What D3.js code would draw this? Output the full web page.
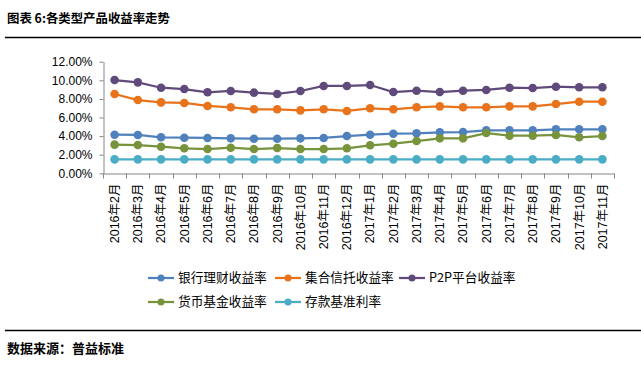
<!DOCTYPE html>
<html><head><meta charset="utf-8">
<script src="https://cdn.jsdelivr.net/npm/d3@7/dist/d3.min.js"></script>
<style>body{margin:0;background:#fff;}svg{display:block;}</style>
</head><body>
<svg id="chart" width="641" height="366"></svg>
<script>
const categories = ["2016年2月","2016年3月","2016年4月","2016年5月","2016年6月","2016年7月","2016年8月","2016年9月","2016年10月","2016年11月","2016年12月","2017年1月","2017年2月","2017年3月","2017年4月","2017年5月","2017年6月","2017年7月","2017年8月","2017年9月","2017年10月","2017年11月"];
const bankWMP = [4.15,4.12,3.87,3.83,3.80,3.76,3.72,3.72,3.76,3.80,4.01,4.15,4.26,4.30,4.41,4.44,4.62,4.62,4.62,4.73,4.73,4.73];
const trust   = [8.53,7.88,7.63,7.56,7.24,7.10,6.88,6.88,6.77,6.88,6.70,6.99,6.88,7.10,7.20,7.10,7.10,7.20,7.20,7.45,7.70,7.70];
const p2p     = [10.03,9.78,9.20,9.06,8.71,8.85,8.67,8.53,8.85,9.39,9.39,9.49,8.74,8.88,8.74,8.88,8.96,9.20,9.17,9.31,9.25,9.25];
const mmf     = [3.08,3.04,2.86,2.69,2.61,2.75,2.61,2.72,2.61,2.61,2.69,3.01,3.18,3.47,3.76,3.76,4.33,4.04,4.04,4.12,3.87,4.01];
const deposit = [1.50,1.50,1.50,1.50,1.50,1.50,1.50,1.50,1.50,1.50,1.50,1.50,1.50,1.50,1.50,1.50,1.50,1.50,1.50,1.50,1.50,1.50];
const seriesNames = ["银行理财收益率","集合信托收益率","P2P平台收益率","货币基金收益率","存款基准利率"];
const yTicks = [0,2,4,6,8,10,12];
const title = "图表 6:各类型产品收益率走势";
const source = "数据来源：普益标准";

const colors = ["#4F81BD","#E8731A","#604A7B","#77933C","#4BACC6"];
const seriesData = [bankWMP, trust, p2p, mmf, deposit];

const svg = d3.select("#chart");
const font = "'Noto Sans CJK SC', 'Liberation Sans', Arial, sans-serif";

// title and rules
svg.append("text").attr("x",7).attr("y",23).attr("font-family",font).attr("font-weight","bold")
  .attr("font-size",12.4).attr("fill","#000").text(title);
svg.append("line").attr("x1",5).attr("x2",641).attr("y1",37.5).attr("y2",37.5).attr("stroke","#000").attr("stroke-width",1.5);
svg.append("line").attr("x1",5).attr("x2",641).attr("y1",330.5).attr("y2",330.5).attr("stroke","#000").attr("stroke-width",1.5);
svg.append("text").attr("x",7).attr("y",353).attr("font-family",font).attr("font-weight","bold")
  .attr("font-size",13).attr("fill","#000").text(source);

const x = d3.scaleBand().domain(categories).range([103,614]);
const y = d3.scaleLinear().domain([0,12]).range([173.3,61.7]);

// y axis
const yAxis = d3.axisLeft(y).tickValues(yTicks).tickFormat(d=>d3.format(".2f")(d)+"%").tickSize(4).tickSizeOuter(0);
const gy = svg.append("g").attr("transform","translate(103.5,0)").call(yAxis);
gy.select(".domain").attr("stroke","#868686");
gy.selectAll(".tick line").attr("stroke","#868686");
gy.selectAll(".tick text").attr("font-family","'Liberation Sans', Arial, sans-serif").attr("font-size",12).attr("fill","#000").attr("x",-11);

// x axis
const xAxis = d3.axisBottom(x).tickSize(0).tickSizeOuter(0);
const gx = svg.append("g").attr("transform","translate(0,173.5)").call(xAxis);
gx.select(".domain").attr("stroke","#868686");
gx.selectAll(".tick text").attr("font-family","'Liberation Sans','Noto Sans CJK SC', Arial, sans-serif").attr("font-size",12.5).attr("fill","#000")
  .attr("transform","rotate(-90)").attr("text-anchor","end").attr("x",-10).attr("y",0).attr("dy","0.35em");
// boundary tick marks
const bounds = categories.map(c=>x(c)).concat([x.range()[1]]);
gx.selectAll(".bt").data(bounds).enter().append("line").attr("class","bt")
  .attr("x1",d=>Math.round(d)+0.5).attr("x2",d=>Math.round(d)+0.5).attr("y1",0).attr("y2",5).attr("stroke","#868686");

// lines
const line = d3.line().x((d,i)=>x(categories[i])+x.bandwidth()/2).y(d=>y(d));
seriesData.forEach((s,k)=>{
  svg.append("path").datum(s).attr("d",line).attr("fill","none").attr("stroke",colors[k]).attr("stroke-width",2.25);
  svg.append("g").selectAll("circle").data(s).enter().append("circle")
    .attr("cx",(d,i)=>x(categories[i])+x.bandwidth()/2).attr("cy",d=>y(d)).attr("r",4.3).attr("fill",colors[k]);
});

// legend
const legendPos = [[148,278],[275,278],[399,278],[148,302],[275,302]];
seriesNames.forEach((n,k)=>{
  const [lx,ly] = legendPos[k];
  const g = svg.append("g");
  g.append("line").attr("x1",lx).attr("x2",lx+26).attr("y1",ly).attr("y2",ly).attr("stroke",colors[k]).attr("stroke-width",2.25);
  g.append("circle").attr("cx",lx+13).attr("cy",ly).attr("r",3.5).attr("fill",colors[k]);
  g.append("text").attr("x",lx+30).attr("y",ly).attr("dy","0.35em").attr("font-family",font).attr("font-size",12.7).attr("fill","#000").text(n);
});
</script>
</body></html>
